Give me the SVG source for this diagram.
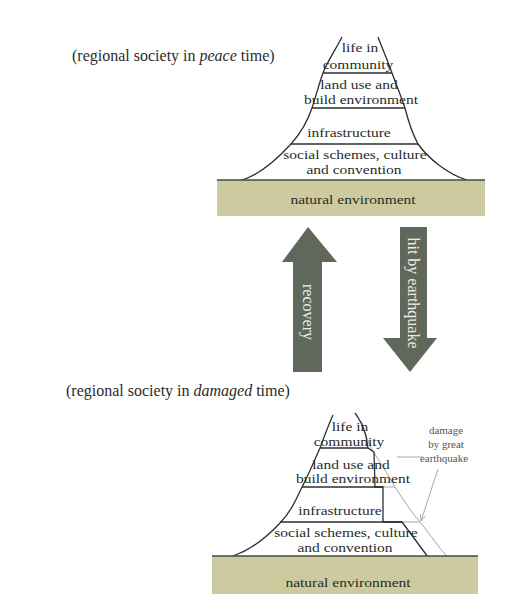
<svg xmlns="http://www.w3.org/2000/svg" width="516" height="616" viewBox="0 0 516 616">
<style>
.t{font-family:"Liberation Serif","Times New Roman",serif;font-size:12.5px;fill:#2b2b2b;text-anchor:middle}
.h{font-family:"Liberation Serif","Times New Roman",serif;font-size:16px;fill:#2b2b2b}
.n{font-family:"Liberation Serif","Times New Roman",serif;font-size:11px;fill:#555;text-anchor:middle}
.a{font-family:"Liberation Serif","Times New Roman",serif;font-size:16px;fill:#ecece6;text-anchor:middle}
.edge{fill:none;stroke:#2e2e2e;stroke-width:1.3}
.ln{stroke:#2e2e2e;stroke-width:1.3}
.faint{fill:none;stroke:#a6a6a6;stroke-width:1}
.ground{fill:#cdca9f}
.gline{stroke:#4a4a42;stroke-width:1.3}
.arrow{fill:#5f685a}
.lead{fill:none;stroke:#a8a8a8;stroke-width:1}
</style>
<defs>
<marker id="tip" viewBox="0 0 8 8" refX="7" refY="4" markerWidth="7" markerHeight="7" orient="auto">
<path d="M0,1 L7,4 L0,7" fill="none" stroke="#a8a8a8" stroke-width="1"/>
</marker>
</defs>
<rect width="516" height="616" fill="#ffffff"/>

<g id="label-peace">
<text class="h" x="72" y="61">(regional society in <tspan font-style="italic">peace</tspan> time)</text>
</g>

<g id="pyramid-peace">
<path class="edge" d="M342,37 C336,49 327,62 323,73 C319,84 316,96 312,108 C308,120 300,134 291,144 C279,157 262,174 242,180"/>
<path class="edge" d="M378,37 C382,48 388,61 392,73 C396,84 401,96 405,108 C408,120 412,133 418,144 C428,158 447,174 467,180"/>
<line class="ln" x1="323" y1="73" x2="392" y2="73"/>
<line class="ln" x1="312" y1="108" x2="405" y2="108"/>
<line class="ln" x1="291" y1="144" x2="418" y2="144"/>
<g id="peace-life"><text class="t" transform="translate(360,52) scale(1.24,1)">life in</text><text class="t" transform="translate(358,69) scale(1.24,1)">community</text></g>
<g id="peace-landuse"><text class="t" transform="translate(359,89) scale(1.24,1)">land use and</text><text class="t" transform="translate(361,104) scale(1.24,1)">build environment</text></g>
<g id="peace-infra"><text class="t" transform="translate(349,137) scale(1.24,1)">infrastructure</text></g>
<g id="peace-social"><text class="t" transform="translate(355,159) scale(1.24,1)">social schemes, culture</text><text class="t" transform="translate(354,174) scale(1.24,1)">and convention</text></g>
</g>

<g id="ground-peace">
<rect class="ground" x="217" y="180" width="268" height="36"/>
<line class="gline" x1="217" y1="180" x2="485" y2="180"/>
<text class="t" transform="translate(353,204) scale(1.24,1)">natural environment</text>
</g>

<g id="label-damaged">
<text class="h" x="66" y="396">(regional society in <tspan font-style="italic">damaged</tspan> time)</text>
</g>

<g id="pyramid-damaged">
<path class="faint" d="M356,413 C362,425 366,437 371,448 C379,461 388,474 395,487 C403,499 411,512 420,522 C430,534 440,550 448,557"/>
<line class="faint" x1="383" y1="487" x2="395" y2="487"/>
<line class="faint" x1="402" y1="522" x2="420" y2="522"/>
<path class="edge" d="M333,415 C328,426 324,437 320,448 C314,461 309,474 302,487 C296,500 290,513 280,523 C267,537 250,550 233,556"/>
<path class="edge" d="M355,413 L362,424 L366,436 L368,448 L374,452 L375,487 L383,487 L383,522 L402,522 L428,557"/>
<line class="ln" x1="320" y1="448" x2="368" y2="448"/>
<line class="ln" x1="302" y1="487" x2="383" y2="487"/>
<line class="ln" x1="280" y1="522" x2="402" y2="522"/>
<g id="damaged-life"><text class="t" transform="translate(350,431) scale(1.24,1)">life in</text><text class="t" transform="translate(349,446) scale(1.24,1)">community</text></g>
<g id="damaged-landuse"><text class="t" transform="translate(351,469) scale(1.24,1)">land use and</text><text class="t" transform="translate(353,483) scale(1.24,1)">build environment</text></g>
<g id="damaged-infra"><text class="t" transform="translate(340,515) scale(1.24,1)">infrastructure</text></g>
<g id="damaged-social"><text class="t" transform="translate(346,537) scale(1.24,1)">social schemes, culture</text><text class="t" transform="translate(345,552) scale(1.24,1)">and convention</text></g>
</g>

<g id="ground-damaged">
<rect class="ground" x="212" y="556" width="266" height="38"/>
<line class="gline" x1="212" y1="556" x2="478" y2="556"/>
<text class="t" transform="translate(348,587) scale(1.24,1)">natural environment</text>
</g>

<g id="note-damage">
<text class="n" x="446" y="434">damage</text>
<text class="n" x="446" y="448">by great</text>
<text class="n" x="444" y="462">earthquake</text>
</g>

<g id="connectors">
<g id="arrow-recovery">
<path class="arrow" d="M308,227 L337,262 L322,262 L322,372 L293,372 L293,262 L282,262 Z"/>
<text class="a" transform="translate(308,312) rotate(90)" dy="5">recovery</text>
</g>
<g id="arrow-earthquake">
<path class="arrow" d="M400,227 L427,227 L427,338 L437,338 L410,372 L383,338 L400,338 Z"/>
<text class="a" transform="translate(413,293) rotate(90)" dy="5">hit by earthquake</text>
</g>
<line class="lead" x1="423" y1="457" x2="397" y2="457"/>
<line class="lead" x1="438" y1="469" x2="421" y2="521" marker-end="url(#tip)"/>
</g>
</svg>
